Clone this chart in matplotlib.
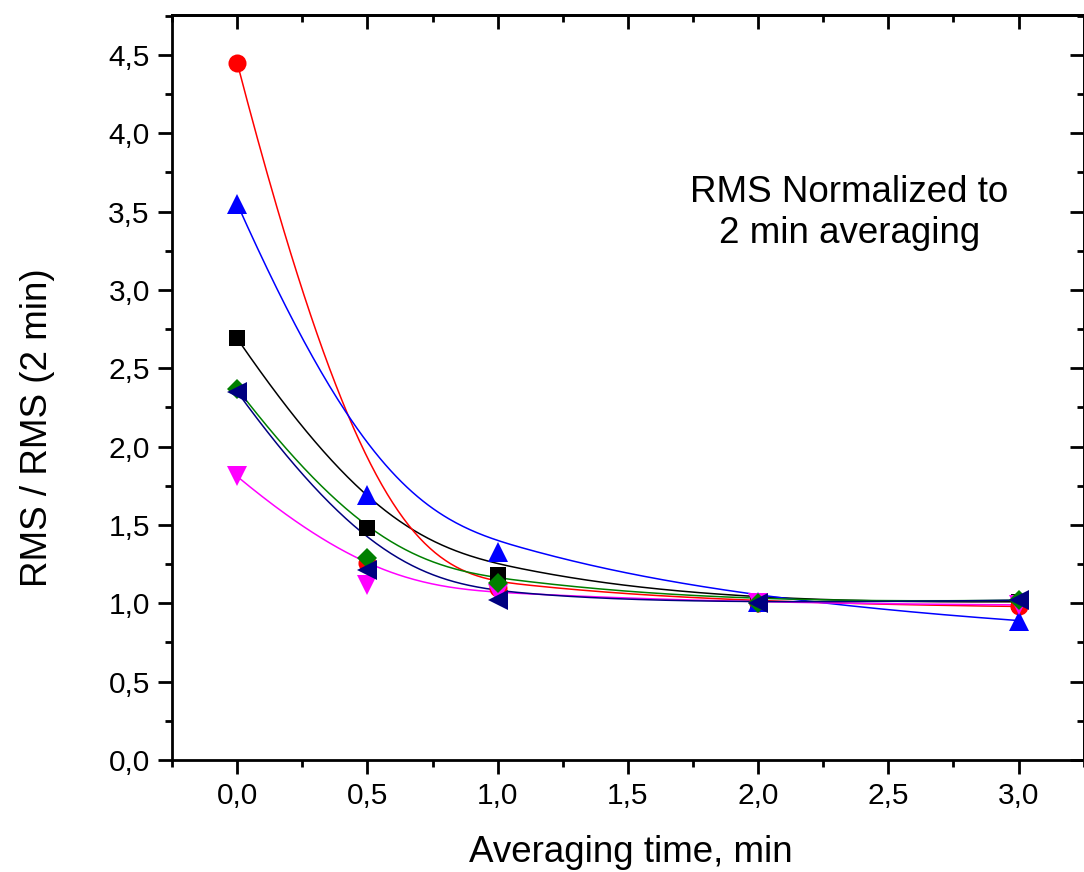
import numpy as np
import matplotlib
matplotlib.use('Agg')
import matplotlib.pyplot as plt
from matplotlib.ticker import MultipleLocator, FuncFormatter

plt.rcParams['font.family'] = ['Liberation Sans', 'DejaVu Sans']

# dados
t_avg = [0.0, 0.5, 1.0, 2.0, 3.0]
rms_black = [2.69, 1.48, 1.18, 1.00, 1.01]
rms_red = [4.45, 1.26, 1.10, 1.00, 0.98]
rms_blue = [3.55, 1.69, 1.33, 1.01, 0.89]
rms_magenta = [1.81, 1.12, 1.06, 1.00, 0.99]
rms_green = [2.37, 1.29, 1.13, 1.00, 1.02]
rms_navy = [2.35, 1.21, 1.02, 1.00, 1.02]


def bspline(xs, ys, k=3, n=300):
    # B-spline aproximante (estilo Origin), pontos como pontos de controle
    P = np.column_stack([xs, ys])
    m = len(P)
    inner = np.linspace(0, 1, m - k + 1)[1:-1]
    knots = np.concatenate([np.zeros(k + 1), inner, np.ones(k + 1)])
    u = np.linspace(0, 1 - 1e-9, n)
    B = np.zeros((n, len(knots) - 1))
    for i in range(len(knots) - 1):
        B[:, i] = (u >= knots[i]) & (u < knots[i + 1])
    for d in range(1, k + 1):
        Bn = np.zeros((n, len(knots) - 1 - d))
        for i in range(len(knots) - 1 - d):
            a = knots[i + d] - knots[i]
            b = knots[i + d + 1] - knots[i + 1]
            t1 = (u - knots[i]) / a * B[:, i] if a > 0 else 0
            t2 = (knots[i + d + 1] - u) / b * B[:, i + 1] if b > 0 else 0
            Bn[:, i] = t1 + t2
        B = Bn
    C = B @ P
    C[-1] = P[-1]
    return C[:, 0], C[:, 1]


series = [
    (rms_black, 'black', 's', 11.5),
    (rms_red, '#FF0000', 'o', 13),
    (rms_blue, '#0000FF', '^', 15),
    (rms_magenta, '#FF00FF', 'v', 15),
    (rms_green, '#008000', 'D', 10.5),
    (rms_navy, '#000080', '<', 15),
]

fig = plt.figure(figsize=(10.84, 8.72), dpi=100)
ax = fig.add_axes([0.1587, 0.1284, 0.841, 0.8544])

for ys, c, mk, ms in series:
    cx, cy = bspline(t_avg, ys)
    ax.plot(cx, cy, color=c, lw=1.1, zorder=2)
    ax.plot(t_avg, ys, linestyle='none', marker=mk, color=c, ms=ms,
            markeredgewidth=0, zorder=3)

ax.set_xlim(-0.25, 3.25)
ax.set_ylim(0, 4.754)
ax.xaxis.set_minor_locator(MultipleLocator(0.25))
ax.yaxis.set_major_locator(MultipleLocator(0.5))
ax.yaxis.set_minor_locator(MultipleLocator(0.25))
fmt = FuncFormatter(lambda v, p: f'{v:.1f}'.replace('.', ','))
ax.set_xticks([0, 0.5, 1.0, 1.5, 2.0, 2.5, 3.0])
ax.xaxis.set_major_formatter(fmt)
ax.yaxis.set_major_formatter(fmt)

for s in ax.spines.values():
    s.set_linewidth(2.0)

ax.tick_params(which='both', direction='out', width=2.0, labelsize=21.5,
               top=False, right=False)
ax.tick_params(which='major', length=10, pad=6)
ax.tick_params(which='minor', length=5)

# ticks espelhados para dentro (topo e direita)
axt = ax.secondary_xaxis('top')
axt.xaxis.set_major_locator(MultipleLocator(0.5))
axt.xaxis.set_minor_locator(MultipleLocator(0.25))
axt.tick_params(which='both', direction='in', width=2.0, labeltop=False)
axt.tick_params(which='major', length=10)
axt.tick_params(which='minor', length=5)
axt.spines['top'].set_linewidth(2.0)
axr = ax.secondary_yaxis('right')
axr.yaxis.set_major_locator(MultipleLocator(0.5))
axr.yaxis.set_minor_locator(MultipleLocator(0.25))
axr.tick_params(which='both', direction='in', width=2.0, labelright=False)
axr.tick_params(which='major', length=10)
axr.tick_params(which='minor', length=5)
axr.spines['right'].set_linewidth(2.0)

ax.set_xlabel('Averaging time, min', fontsize=26.5)
ax.set_ylabel('RMS / RMS (2 min)', fontsize=26.5)
ax.xaxis.set_label_coords(0.503, -0.101)
ax.yaxis.set_label_coords(-0.128, 0.446)

ax.text(0.743, 0.734, 'RMS Normalized to\n2 min averaging', transform=ax.transAxes,
        ha='center', va='center', fontsize=26.5, linespacing=1.22)

fig.savefig('out.png', dpi=100)
